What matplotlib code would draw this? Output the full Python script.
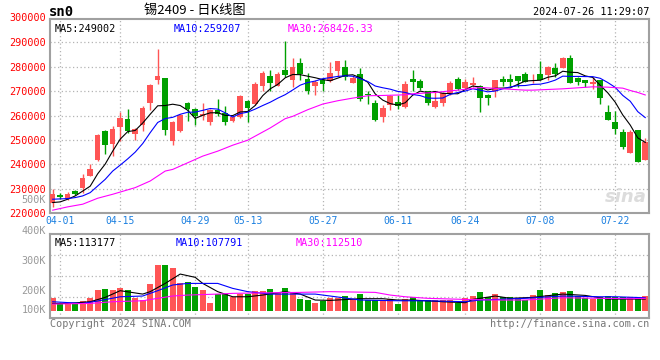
"""
sn2409 tin futures - daily K line chart
"""
import pandas as pd
import matplotlib
matplotlib.use('Agg')
from matplotlib import pyplot as plt

# Daily candles, 2024-03-29 .. 2024-07-26
opens = [224290, 227280, 225650, 228910, 230140, 235040, 241570, 253810, 248370, 255170,
         258570, 252590, 255990, 265100, 274630, 275310, 249730, 253810, 265100, 262650,
         259660, 257210, 262110, 261020, 257620, 259250, 266060, 264700, 271910, 276260,
         272310, 278710, 274630, 281430, 275030, 272310, 274630, 274220, 278440, 279800,
         273540, 276940, 268780, 265100, 259250, 264150, 265510, 263330, 275030, 274220,
         270140, 263330, 265100, 268910, 275030, 271230, 272590, 272180, 268230, 269860,
         275030, 275030, 276260, 277080, 275310, 276940, 276670, 279660, 279390, 283470,
         275580, 274630, 272860, 274630, 261430, 257210, 253130, 244420, 254220, 241700]
highs = [229730, 228370, 228780, 229320, 236120, 239930, 252590, 254220, 255580, 261290,
         262790, 254900, 263740, 272990, 287140, 275310, 257620, 260610, 265380, 263060,
         265100, 262650, 266870, 264010, 259660, 268500, 266460, 273950, 278300, 278710,
         277760, 290540, 283470, 283740, 277350, 274630, 275580, 282110, 282520, 282790,
         276260, 279390, 270140, 266460, 264420, 268500, 268230, 274350, 278710, 275030,
         270140, 269860, 269590, 274220, 275990, 275030, 275990, 272590, 268780, 274630,
         276260, 277080, 276260, 277760, 276940, 282380, 280480, 281430, 284150, 284830,
         275990, 274630, 275990, 274630, 264420, 261970, 254490, 254220, 254220, 250820]
lows = [222520, 225920, 225510, 227550, 228370, 235040, 241290, 244020, 243340, 249460,
        252860, 250140, 253810, 262380, 272990, 252180, 247820, 253270, 257620, 255990,
        258300, 256260, 259660, 256260, 257350, 258980, 257210, 264420, 269860, 270140,
        271910, 275990, 271500, 274630, 268910, 268500, 270140, 273950, 276400, 274630,
        273270, 266060, 264700, 257890, 257350, 262380, 262790, 263060, 270140, 270550,
        264420, 263060, 263740, 268500, 270550, 270950, 271500, 261290, 264150, 267420,
        272180, 272310, 271500, 273950, 273270, 274630, 274630, 275990, 279390, 273540,
        272590, 271500, 270950, 264830, 258300, 252450, 246460, 244420, 240890, 241700]
closes = [227960, 226740, 227960, 227830, 234490, 238030, 252180, 247820, 254490, 258980,
          253540, 254490, 263060, 272590, 276260, 254080, 257210, 260340, 262790, 259660,
          260610, 262110, 260610, 257210, 259250, 268100, 263060, 272990, 277350, 273270,
          277080, 276670, 279800, 276940, 270140, 273950, 272860, 277350, 282380, 275720,
          275310, 266740, 268230, 258300, 263060, 268100, 263740, 272990, 273950, 271230,
          265100, 266060, 269180, 273270, 270950, 273670, 273400, 267140, 267140, 274630,
          273950, 273950, 274220, 273950, 275580, 274630, 280070, 277080, 283470, 273540,
          273950, 273270, 273950, 267140, 258300, 254630, 247140, 253130, 240890, 249050]

# Volume, thousand lots
volumes = [107, 55, 55, 55, 83, 107, 171, 179, 171, 187,
           171, 107, 88, 220, 377, 377, 355, 231, 237, 195,
           171, 66, 138, 138, 110, 138, 138, 165, 162, 179,
           149, 187, 149, 99, 88, 66, 77, 107, 107, 121,
           94, 138, 88, 88, 88, 94, 55, 94, 110, 88,
           88, 88, 88, 88, 61, 102, 121, 157, 110, 138,
           116, 110, 102, 88, 129, 171, 129, 149, 157, 162,
           121, 102, 94, 116, 121, 116, 110, 110, 110, 121]

# Moving averages of the first days (need data before the window)
ma5_head = [224290, 224560, 225650, 227010]
ma10_head = [225650, 225780, 225920, 226330, 227010, 228370, 231090, 233810, 237210]

# MA30
ma30_idx = [0, 2, 4, 6, 8, 11, 13, 15, 16, 18, 20, 22, 24, 26, 29, 31, 32, 34, 36, 38,
            40, 42, 44, 47, 48, 51, 54, 57, 60, 63, 64, 68, 72, 74, 76, 77, 78, 79]
ma30_val = [221160, 222520, 223610, 226060, 227690, 230410, 233130, 237210, 237890, 240610,
            243340, 245380, 247820, 249870, 254900, 258710, 259660, 262380, 264700, 266060,
            267140, 268100, 268230, 268500, 268910, 269460, 270410, 271500, 270950, 270410,
            270410, 270950, 271770, 271630, 271230, 270270, 269460, 268430]

# Volume moving averages
vma5_idx = [0, 2, 5, 7, 9, 12, 13, 15, 17, 19, 20, 22, 24, 26, 28, 31, 33, 35, 37, 41,
            44, 46, 48, 52, 55, 56, 59, 61, 64, 68, 71, 74, 77, 79]
vma5_val = [60, 60, 74, 110, 165, 137, 157, 225, 302, 275, 225, 157, 115, 115, 129, 157,
            137, 88, 85, 99, 99, 88, 88, 74, 66, 93, 121, 102, 110, 137, 126, 96, 96, 96]
vma10_idx = [0, 4, 6, 9, 12, 14, 16, 18, 20, 22, 24, 26, 29, 33, 35, 37, 41, 46, 50, 55,
             57, 59, 63, 65, 68, 73, 75, 79]
vma10_val = [74, 60, 80, 115, 121, 165, 212, 225, 225, 225, 184, 157, 137, 137, 137, 121,
             88, 82, 82, 74, 88, 93, 102, 110, 121, 115, 115, 107]
vma30_idx = [0, 5, 8, 12, 14, 16, 18, 22, 24, 29, 33, 37, 43, 45, 47, 50, 55, 59, 63, 68,
             73, 77, 79]
vma30_val = [55, 60, 74, 82, 102, 121, 129, 137, 143, 148, 151, 157, 151, 129, 115, 102,
             93, 88, 88, 107, 102, 99, 102]

tick_pos = [1, 9, 19, 26, 36, 46, 55, 65, 75]
tick_labels = ['04-01', '04-15', '04-29', '05-13', '05-27', '06-11', '06-24', '07-08', '07-22']
price_ticks = [220000, 230000, 240000, 250000, 260000, 270000, 280000, 290000, 300000]

# Colours
upColour = '#ff5555'
downColour = '#00a000'
gridColour = '#b4b4b4'
spineColour = '#a0a0a0'
mono = 'DejaVu Sans Mono'

n = len(closes)
x = list(range(n))
up = [c >= o for o, c in zip(opens, closes)]
colours = [upColour if u else downColour for u in up]

ma5 = pd.Series(closes).rolling(5).mean()
ma5[:len(ma5_head)] = ma5_head
ma10 = pd.Series(closes).rolling(10).mean()
ma10[:len(ma10_head)] = ma10_head

fig = plt.figure(figsize=(6.6, 3.6), dpi=100)
ax1 = fig.add_axes([50/660, 147/360, 599/660, 194/360])
ax2 = fig.add_axes([50/660, 42/360, 599/660, 84/360])

for ax in (ax1, ax2):
    for s in ax.spines.values():
        s.set_color(spineColour)
        s.set_linewidth(1.5)
    ax.set_xlim(-0.36, 79.5)
    ax.tick_params(length=0)
    for p in tick_pos:
        ax.axvline(p, color=gridColour, linestyle=(0, (1, 2)), linewidth=0.9, zorder=0)

# ---- price panel
ax1.set_ylim(220000, 299600)
for t in price_ticks[1:-1]:
    ax1.axhline(t, color=gridColour, linestyle=(0, (1, 2)), linewidth=0.9, zorder=0)
ax1.set_yticks(price_ticks[:-1])
ax1.set_yticklabels([str(t) for t in price_ticks[:-1]], color='#ff0000',
                    fontfamily=mono, fontsize=7.3)
ax1.text(-0.007, 300000, str(price_ticks[-1]), transform=ax1.get_yaxis_transform(),
         ha='right', va='center', color='#ff0000', fontfamily=mono, fontsize=7.3,
         clip_on=False)
ax1.tick_params(axis='y', pad=3)
ax1.set_xticks(tick_pos)
ax1.set_xticklabels(tick_labels, color='#1a7fe0', fontfamily=mono, fontsize=7)
ax1.tick_params(axis='x', pad=2)

ax1.vlines(x, lows, highs, colors=colours, linewidth=1.0, zorder=2)
bottoms = [min(o, c) for o, c in zip(opens, closes)]
heights = [max(abs(c - o), 250) for o, c in zip(opens, closes)]
ax1.bar(x, heights, bottom=bottoms, width=0.74, color=colours, linewidth=0, zorder=3)

ax1.plot(x, ma5, color='black', linewidth=0.8, zorder=4)
ax1.plot(x, ma10, color='#0000ff', linewidth=0.8, zorder=4)
ax1.plot(ma30_idx, ma30_val, color='#ff00ff', linewidth=0.8, zorder=4)

ax1.text(0.007, 0.975, 'MA5:249002', transform=ax1.transAxes, ha='left', va='top',
         fontfamily=mono, fontsize=7.3, color='black')
ax1.text(0.207, 0.975, 'MA10:259207', transform=ax1.transAxes, ha='left', va='top',
         fontfamily=mono, fontsize=7.3, color='#0000ff')
ax1.text(0.396, 0.975, 'MA30:268426.33', transform=ax1.transAxes, ha='left', va='top',
         fontfamily=mono, fontsize=7.3, color='#ff00ff')
ax1.text(0.962, 0.08, 'sina', transform=ax1.transAxes, ha='center', va='center',
         fontsize=13, fontweight='bold', style='italic', color='#dcdcdc', zorder=1)

# ---- volume panel
ax2.set_ylim(-60, 632)
for t in (117, 290, 459):
    ax2.axhline(t, color=gridColour, linestyle=(0, (1, 2)), linewidth=0.9, zorder=0)
ax2.set_xticks([])
ax2.set_yticks([])
ax2.bar(x, volumes, width=0.76, color=colours, linewidth=0, zorder=2)
ax2.plot(vma5_idx, vma5_val, color='black', linewidth=0.8, zorder=3)
ax2.plot(vma10_idx, vma10_val, color='#0000ff', linewidth=0.8, zorder=3)
ax2.plot(vma30_idx, vma30_val, color='#ff00ff', linewidth=0.8, zorder=3)

for lab, fy in (('500K', 1.405), ('400K', 1.036), ('300K', 0.678), ('200K', 0.321), ('100K', 0.095)):
    ax2.text(-0.007, fy, lab, transform=ax2.transAxes, ha='right', va='center',
             fontfamily=mono, fontsize=7.3, color='#999999', clip_on=False)

ax2.text(0.007, 0.95, 'MA5:113177', transform=ax2.transAxes, ha='left', va='top',
         fontfamily=mono, fontsize=7.3, color='black')
ax2.text(0.209, 0.95, 'MA10:107791', transform=ax2.transAxes, ha='left', va='top',
         fontfamily=mono, fontsize=7.3, color='#0000ff')
ax2.text(0.41, 0.95, 'MA30:112510', transform=ax2.transAxes, ha='left', va='top',
         fontfamily=mono, fontsize=7.3, color='#ff00ff')

# ---- header / footer
fig.text(49/660, 1 - 12/360, 'sn0', ha='left', va='center', fontfamily=mono,
         fontweight='bold', fontsize=10, color='black')
fig.text(195/660, 1 - 10/360, '锡2409 - 日K线图', ha='center', va='center',
         family=['Noto Sans CJK SC', 'DejaVu Sans'], fontsize=9.5, color='black')
fig.text(649/660, 1 - 12/360, '2024-07-26 11:29:07', ha='right', va='center',
         fontfamily=mono, fontsize=7.3, color='black')
fig.text(50/660, 1 - 324/360, 'Copyright 2024 SINA.COM', ha='left', va='center',
         fontfamily=mono, fontsize=7.3, color='#777777')
fig.text(649/660, 1 - 324/360, 'http://finance.sina.com.cn', ha='right', va='center',
         fontfamily=mono, fontsize=7.3, color='#777777')

fig.savefig('out.png', dpi=100)
